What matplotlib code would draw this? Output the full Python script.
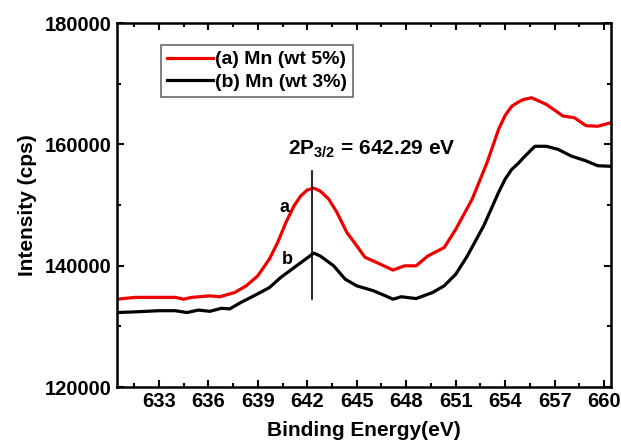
import numpy as np
import matplotlib.pyplot as plt
from matplotlib.ticker import MultipleLocator

plt.rcParams['font.family'] = 'Liberation Sans'
plt.rcParams['font.weight'] = 'bold'
plt.rcParams['mathtext.fontset'] = 'custom'
plt.rcParams['mathtext.bf'] = 'Liberation Sans:bold'
plt.rcParams['mathtext.rm'] = 'Liberation Sans:bold'

# Mn 2p XPS spectra, read point by point
energy_a = [630.45, 631.6, 633.0, 634.0, 634.5, 635.0, 636.1, 636.7, 637.6, 638.3,
            639.0, 639.7, 640.2, 640.7, 641.2, 641.6, 642.0, 642.4, 642.8, 643.3,
            643.8, 644.4, 645.0, 645.5, 646.0, 646.4, 647.2, 647.9, 648.6, 649.3,
            650.3, 651.0, 652.0, 652.9, 653.6, 654.0, 654.4, 654.8, 655.1, 655.6,
            656.5, 657.5, 658.2, 658.9, 659.6, 660.42]
intensity_a = [134500, 134800, 134800, 134800, 134500, 134800, 135050, 134900, 135600, 136700,
               138350, 141100, 143800, 147100, 149900, 151500, 152500, 152800, 152300, 151000,
               148800, 145500, 143300, 141400, 140800, 140300, 139300, 140000, 140000, 141600,
               143000, 146000, 151000, 157000, 162500, 164800, 166300, 167000, 167400, 167700,
               166600, 164700, 164400, 163100, 163000, 163600]

energy_b = [630.45, 631.5, 633.0, 634.0, 634.7, 635.4, 636.1, 636.8, 637.3, 638.0,
            638.8, 639.7, 640.4, 641.2, 641.9, 642.4, 642.8, 643.6, 644.3, 645.0,
            646.0, 646.7, 647.2, 647.7, 648.6, 649.6, 650.3, 651.0, 651.7, 652.7,
            653.6, 654.0, 654.4, 654.8, 655.1, 655.8, 656.5, 657.2, 658.0, 658.9,
            659.6, 660.42]
intensity_b = [132300, 132400, 132600, 132600, 132300, 132700, 132500, 133000, 132900, 134000,
               135100, 136400, 138100, 139700, 141100, 142100, 141600, 140000, 137800, 136700,
               135900, 135100, 134500, 134900, 134600, 135600, 136700, 138600, 141600, 146600,
               152100, 154300, 155900, 156900, 157800, 159700, 159700, 159200, 158100, 157300,
               156500, 156400]

peak_energy = 642.29
peak_line = [134500, 155700]

fig = plt.figure(figsize=(6.21, 4.45), dpi=100)
ax = fig.add_axes([0.188, 0.130, 0.796, 0.818])

ax.plot(energy_a, intensity_a, color='#ee0000', lw=2.3, label='(a) Mn (wt 5%)')
ax.plot(energy_b, intensity_b, color='black', lw=2.3, label='(b) Mn (wt 3%)')
ax.plot([peak_energy, peak_energy], peak_line, color='black', lw=1.2)

ax.text(645.9, 159300, r'2P$_{3/2}$ = 642.29 eV', ha='center', va='center',
        fontsize=15, fontweight='bold')
ax.text(640.6, 149600, 'a', ha='center', va='center', fontsize=13, fontweight='bold')
ax.text(640.8, 141100, 'b', ha='center', va='center', fontsize=13, fontweight='bold')

ax.set_xlim(630.45, 660.42)
ax.set_ylim(120000, 180000)
ax.xaxis.set_minor_locator(MultipleLocator(1.5))
ax.yaxis.set_major_locator(MultipleLocator(20000))
ax.yaxis.set_minor_locator(MultipleLocator(10000))
ax.set_xticks(np.arange(633, 661, 3))
ax.tick_params(which='both', direction='in', top=True, right=True, width=1.5,
               labelsize=14.5, labeltop=False, labelright=False)
ax.tick_params(which='major', length=5)
ax.tick_params(which='minor', length=3)
for s in ax.spines.values():
    s.set_linewidth(1.8)
for lab in ax.get_xticklabels() + ax.get_yticklabels():
    lab.set_fontweight('bold')

ax.set_xlabel('Binding Energy(eV)', fontsize=15, fontweight='bold', labelpad=7)
ax.set_ylabel('Intensity (cps)', fontsize=15, fontweight='bold', labelpad=6)

leg = ax.legend(loc='upper left', bbox_to_anchor=(0.089, 0.94), fontsize=14,
                frameon=True, fancybox=False, handlelength=2.4, handletextpad=0.1,
                borderpad=0.3, labelspacing=0.25, borderaxespad=0)
leg.get_frame().set_edgecolor('#444444')
leg.get_frame().set_linewidth(1.2)
for t in leg.get_texts():
    t.set_fontweight('bold')

fig.savefig('out.png', dpi=100)
